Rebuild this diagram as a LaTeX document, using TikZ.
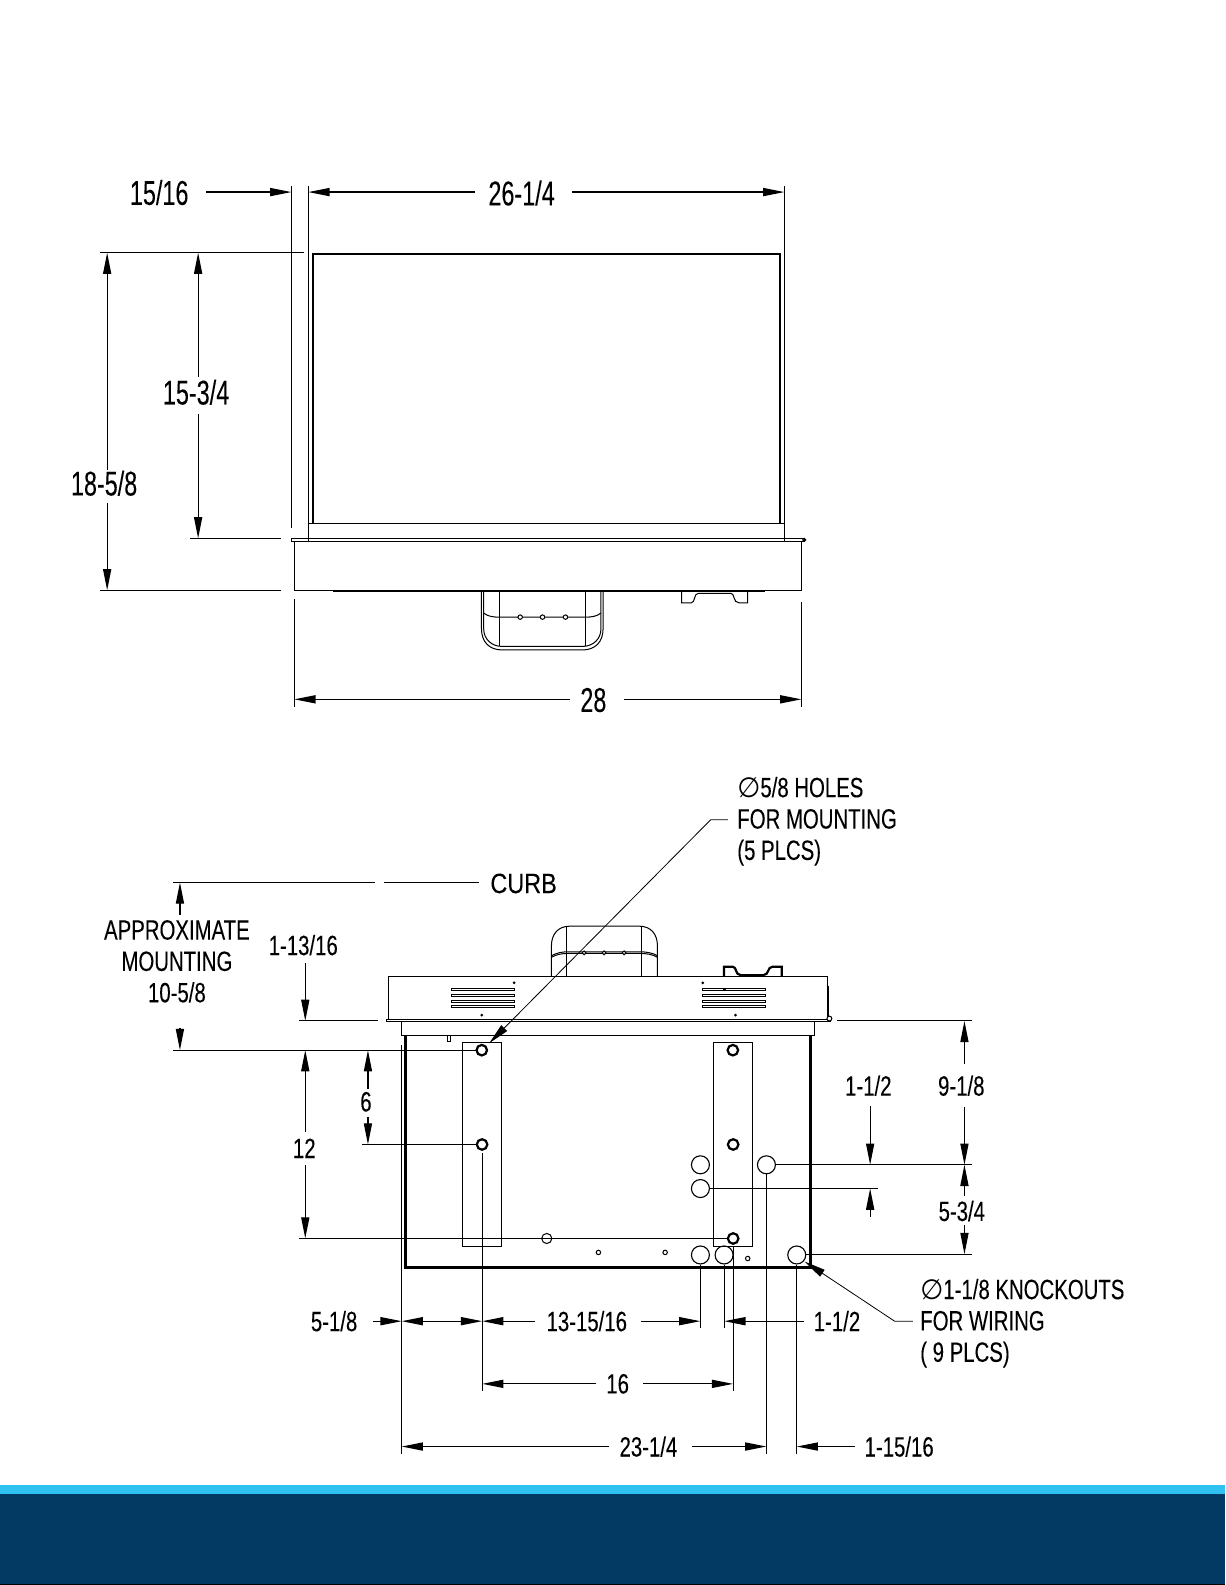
\documentclass[tikz,border=0pt]{standalone}
\usepackage{fontspec}
\setmainfont{Liberation Sans}
\newfontfamily\topdimfont[FakeStretch=0.68,FakeBold=0.08]{Liberation Sans}
\newfontfamily\botdimfont[FakeStretch=0.73,FakeBold=0.08]{Liberation Sans}
\newfontfamily\curbfont[FakeStretch=0.84,FakeBold=0.08]{Liberation Sans}
\newfontfamily\symfont[FakeStretch=0.95]{DejaVu Sans}
\usetikzlibrary{arrows.meta}
\definecolor{bandcyan}{HTML}{30C1F3}
\definecolor{bandnavy}{HTML}{023A63}
\tikzset{
  ext/.style={draw=black,line width=0.5pt},
  dimline/.style={draw=black,line width=0.6pt,-{Triangle[length=10.5pt,width=4pt]}},
  twodim/.style={draw=black,line width=0.6pt,{Triangle[length=10.5pt,width=4pt]}-{Triangle[length=10.5pt,width=4pt]}},
  leaderline/.style={draw=black,line width=0.4pt,-{Triangle[length=10.5pt,width=4pt]}},
  thin part/.style={draw=black,line width=0.5pt},
  med part/.style={draw=black,line width=0.8pt},
  heavy part/.style={draw=black,line width=1.5pt},
  toplabel/.style={inner sep=0pt,font=\topdimfont\fontsize{17}{17}\selectfont},
  botlabel/.style={inner sep=0pt,align=center,font=\botdimfont\fontsize{13.8}{15.5}\selectfont},
  curblabel/.style={inner sep=0pt,font=\curbfont\fontsize{13.8}{15.5}\selectfont},
  leftnote/.style={inner sep=3pt,align=left,anchor=west,font=\botdimfont\fontsize{13.8}{15.5}\selectfont},
  hole/.style={draw=black,line width=1.1pt},
  knockout/.style={draw=black,line width=0.55pt},
  slat/.style={draw=black,line width=0.4pt,fill=white},
}
\newcommand{\dia}{{\symfont ∅}}
\begin{document}
\begin{tikzpicture}[x=0.5pt,y=-0.5pt]
\useasboundingbox (0,0) rectangle (1212,1568);
\fill[white] (0,0) rectangle (1212,1568);
% footer
\fill[bandcyan] (0,1469.3) rectangle (1212,1478.2);
\fill[bandnavy] (0,1478.2) rectangle (1212,1567);
\fill[black] (0,1567) rectangle (1212,1568);

%% ---------- TOP VIEW ----------
\draw[med part] (309.5,518) -- (309.5,251) -- (771.8,251) -- (771.8,518);
\draw[thin part] (305,535) -- (305,517.6) -- (776,517.6) -- (776,535);
\draw[thin part] (288.3,532.6) rectangle (795.6,535.6);
\draw[thin part] (291.2,535.6) rectangle (792.8,584);
\draw[med part] (329.5,585) -- (756.5,585);
\draw[thin part] (795.6,534) circle [radius=1.5];
% hood
\draw[thin part] (476.3,585) -- (476.3,622) .. controls (476.3,635) and (484,643) .. (497,643) -- (576,643) .. controls (589,643) and (596.6,635) .. (596.6,622) -- (596.6,585);
\draw[thin part] (478.5,585) -- (478.5,622) .. controls (478.5,632) and (486,639.5) .. (497,639.5) -- (576,639.5) .. controls (587,639.5) and (594.5,632) .. (594.5,622) -- (594.5,585);
\draw[thin part] (493.8,585) -- (493.8,639.5);
\draw[thin part] (579,585) -- (579,639.5);
\draw[thin part] (478.5,606.5) .. controls (483,610) and (488,610.5) .. (493.8,610.5) -- (579,610.5) .. controls (585,610.5) and (590,610) .. (594.5,606.5);
\foreach \px in {514.6,536.7,559.4}
  \draw[thin part,fill=white] (\px,610.5) circle [radius=2.2];
% bracket
\draw[thin part] (674.2,585) -- (674.2,596.3) -- (684,596.3) .. controls (688,596.3) and (686,586.9) .. (691,586.9) -- (723,586.9) .. controls (727,586.9) and (725,596.3) .. (731,596.3) -- (739.6,596.3) -- (739.6,585);
% extension lines
\draw[ext] (288.3,184) -- (288.3,522);
\draw[ext] (305,184) -- (305,517.6);
\draw[ext] (776,184) -- (776,517.6);
\draw[ext] (99,250) -- (301,250);
\draw[ext] (188,532.6) -- (277.7,532.6);
\draw[ext] (99,584) -- (278,584);
\draw[ext] (291.2,592.7) -- (291.2,699.5);
\draw[ext] (792.8,596) -- (792.8,699.5);
% dimensions
\node[toplabel] (d1) at (157.5,190.5) {15/16};
\draw[dimline] (204,190) -- (288.3,190);
\node[toplabel] (d2) at (516,191) {26-1/4};
\draw[dimline] (470,190) -- (305,190);
\draw[dimline] (566,190) -- (776,190);
\node[toplabel] (d3) at (103,478) {18-5/8};
\draw[dimline] (106,465) -- (106,250);
\draw[dimline] (106,498) -- (106,584);
\node[toplabel] (d4) at (194,388) {15-3/4};
\draw[dimline] (196,373) -- (196,250);
\draw[dimline] (196,410) -- (196,532.6);
\node[toplabel] (d5) at (587,692.5) {28};
\draw[dimline] (564,691.8) -- (291.2,691.8);
\draw[dimline] (617,691.8) -- (792.8,691.8);

%% ---------- BOTTOM VIEW ----------
% hood
\draw[thin part] (545.5,966) -- (545.5,936) .. controls (545.5,924) and (552,916.2) .. (564,916.2) -- (632,916.2) .. controls (644,916.2) and (650.4,924) .. (650.4,936) -- (650.4,966);
\draw[thin part] (560,916.2) -- (560,966);
\draw[thin part] (634.5,916.2) -- (634.5,966);
\draw[thin part] (545.5,945.5) .. controls (551,942.5) and (556,941.6) .. (562,941.6) -- (632,941.6) .. controls (640,941.6) and (645,942.5) .. (650.4,945.5);
\draw[thin part] (545.5,947) .. controls (551,944) and (556,943.2) .. (562,943.2) -- (632,943.2) .. controls (640,943.2) and (645,944) .. (650.4,947);
\foreach \px in {577.8,597.6,617.4}
  \draw[thin part,fill=white] (\px,942.6) circle [radius=1.9];
% bracket
\draw[line width=1.1pt] (716.3,966) -- (716.3,956.4) -- (725,956.4) .. controls (729,956.4) and (727,964.7) .. (733,964.7) -- (755,964.7) .. controls (761,964.7) and (759,956.4) .. (764,956.4) -- (773.4,956.4) -- (773.4,966);
% base
\draw[thin part] (384.2,966) rectangle (818.9,1008.2);
\draw[med part] (818.9,975) -- (818.9,1008.2);
\draw[thin part] (381.9,1008.2) rectangle (821.2,1010.9);
\draw[thin part,fill=white] (820.5,1007.6) circle [radius=2.4];
\draw[thin part] (397.4,1010.9) rectangle (805.4,1024.7);
% vents
\foreach \vy in {978.9,985.2,990.4,996} {
  \draw[slat] (446.2,\vy-1) rectangle (509.2,\vy+1);
  \draw[slat] (694.9,\vy-1) rectangle (757.6,\vy+1);
}
\foreach \dx/\dy in {508.6/972.3,476.6/1004.3,695.2/972.3,727.6/1004.3,716.7/978.9}
  \fill[black] (\dx,\dy) circle [radius=1.5];
% main box
\draw[heavy part,line join=miter] (400.7,1024.7) -- (400.7,1253.9) -- (801.4,1253.9) -- (801.4,1024.7);
\draw[thin part] (442.6,1024.7) rectangle (445.9,1030.7);
% plates
\draw[thin part] (457.4,1031.3) rectangle (496.4,1233.1);
\draw[thin part] (705.8,1031.3) rectangle (744.7,1233.1);
% extension lines behind holes
\draw[ext] (171,1038.9) -- (471,1038.9);
\draw[ext] (171,873) -- (371,873);
\draw[ext] (380,873) -- (474,873);
\draw[ext] (296,1010) -- (374,1010);
\draw[ext] (828,1010) -- (961.7,1010);
\draw[ext] (296,1225.2) -- (719.5,1225.2);
\draw[ext] (358,1132.2) -- (471,1132.2);
\draw[ext] (397.4,1034) -- (397.4,1438);
\draw[ext] (477,1141) -- (477,1376);
\draw[ext] (692.9,1251) -- (692.9,1314);
\draw[ext] (716.5,1251) -- (716.5,1314);
\draw[ext] (725.3,1233.1) -- (725.3,1376);
\draw[ext] (758.2,1161.2) -- (758.2,1438);
\draw[ext] (788.2,1251) -- (788.2,1438);
\draw[ext] (767,1152.3) -- (961.7,1152.3);
\draw[ext] (702,1175.8) -- (868.7,1175.8);
\draw[ext] (797,1240.7) -- (961.7,1240.7);
% holes
\foreach \hx/\hy in {476.6/1038.9,725/1038.9,476.9/1132.2,725.3/1132.2,725.3/1225.2}
  \draw[hole] (\hx,\hy) circle [radius=5.2];
\foreach \kx/\ky in {692.9/1152.3,692.9/1175.8,758.2/1152.3,692.9/1241.5,716.3/1241.5,788.2/1241.5}
  \draw[knockout] (\kx,\ky) circle [radius=8.9];
\draw[thin part] (540.9,1225.2) circle [radius=5];
\foreach \sx/\sy in {592/1239,658/1239,739.7/1245}
  \draw[thin part] (\sx,\sy) circle [radius=2.2];

% dimensions
\node[curblabel] (curb) at (518,874) {CURB};
\node[botlabel] (approx) at (175,951) {APPROXIMATE\\MOUNTING\\10-5/8};
\draw[dimline] (178,905) -- (178,873);
\draw[dimline] (178,1017) -- (178,1038.9);
\node[botlabel] (a1) at (300,935) {1-13/16};
\draw[dimline] (302,953) -- (302,1010);
\node[botlabel] (a2) at (301,1136) {12};
\draw[dimline] (302,1120) -- (302,1038.9);
\draw[dimline] (302,1152) -- (302,1225.2);
\node[botlabel] (a3) at (362,1090) {6};
\draw[dimline] (364,1077) -- (364,1038.9);
\draw[dimline] (364,1105) -- (364,1132.2);
\node[botlabel] (a4) at (859,1074) {1-1/2};
\draw[dimline] (860.8,1094.3) -- (860.8,1152.3);
\draw[dimline] (860.8,1204) -- (860.8,1175.8);
\node[botlabel] (a5) at (951,1074) {9-1/8};
\draw[dimline] (954.1,1053) -- (954.1,1010);
\draw[dimline] (954.1,1095) -- (954.1,1152.3);
\node[botlabel] (a6) at (951.5,1198) {5-3/4};
\draw[dimline] (954.1,1183) -- (954.1,1152.3);
\draw[dimline] (954.1,1212) -- (954.1,1240.7);
\node[botlabel] (b1) at (330.5,1307) {5-1/8};
\draw[dimline] (369,1307) -- (397.4,1307);
\draw[twodim] (397.4,1307) -- (477,1307);
\node[botlabel] (b2) at (580.5,1307) {13-15/16};
\draw[dimline] (529,1307) -- (477,1307);
\draw[dimline] (634.6,1307) -- (692.9,1307);
\node[botlabel] (b3) at (828,1307) {1-1/2};
\draw[dimline] (795,1307) -- (716.5,1307);
\node[botlabel] (b4) at (611,1369) {16};
\draw[dimline] (590,1369) -- (477,1369);
\draw[dimline] (636,1369) -- (725.3,1369);
\node[botlabel] (b5) at (641.5,1431) {23-1/4};
\draw[dimline] (602,1431) -- (397.4,1431);
\draw[dimline] (685,1431) -- (758.2,1431);
\node[botlabel] (b6) at (889.5,1431) {1-15/16};
\draw[dimline] (846,1431) -- (788.2,1431);
% leaders
\node[leftnote] (holes) at (723,812.5) {\dia 5/8 HOLES\\FOR MOUNTING\\(5 PLCS)};
\draw[leaderline] (720,811) -- (703,811) -- (484,1032);
\node[leftnote] (kos) at (904,1309) {\dia 1-1/8 KNOCKOUTS\\FOR WIRING\\( 9 PLCS)};
\draw[leaderline] (903,1307) -- (885,1307) -- (796,1248);
\end{tikzpicture}
\end{document}
